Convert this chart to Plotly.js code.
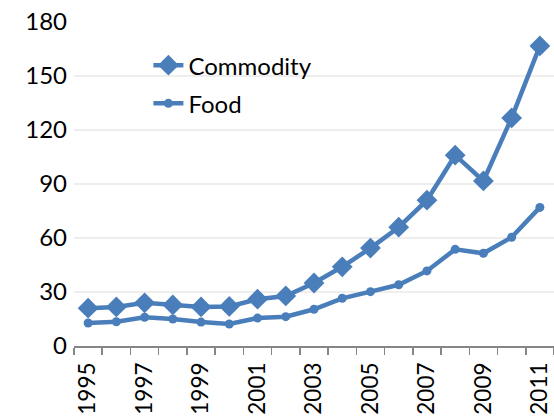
<!DOCTYPE html>
<html>
<head>
<meta charset="utf-8">
<script src="https://cdn.plot.ly/plotly-3.0.1.min.js"></script>
<style>html,body{margin:0;padding:0;background:#fff;}#chart{width:554px;height:416px;}</style>
</head>
<body>
<div id="chart"></div>
<script>
const years = [1995,1996,1997,1998,1999,2000,2001,2002,2003,2004,2005,2006,2007,2008,2009,2010,2011];
const commodity = [21,21.7,24,22.8,21.7,22,26,27.8,35,44,54.4,66,81,106,91.7,126.7,166.7];
const food = [12.8,13.5,16,15,13.3,12.2,15.5,16.3,20.4,26.5,30.2,34,41.7,53.7,51.5,60.4,77];
const xLabels = [1995,1997,1999,2001,2003,2005,2007,2009,2011];
const yTicks = [0,30,60,90,120,150,180];

const blue = '#4a7ebb';
const font = {family: 'Lato, "Open Sans", sans-serif', size: 24, color: '#000'};
const xfont = {family: 'Lato, "Open Sans", sans-serif', size: 22.5, color: '#000'};

const traces = [
  {x: years, y: commodity, name: 'Commodity', type: 'scatter', mode: 'lines+markers',
   line: {color: blue, width: 4.5}, marker: {symbol: 'diamond', size: 16, color: blue}, legendgroup: 'a'},
  {x: years, y: food, name: 'Food', type: 'scatter', mode: 'lines+markers',
   line: {color: blue, width: 4.5}, marker: {symbol: 'circle', size: 9, color: blue}, legendgroup: 'b'}
];

const layout = {
  width: 554, height: 416,
  margin: {l: 74, r: 0, t: 22, b: 70},
  paper_bgcolor: '#fff', plot_bgcolor: '#fff',
  font: font,
  showlegend: true,
  legend: {x: 0.155, y: 0.935, xanchor: 'left', yanchor: 'top', bgcolor: 'rgba(0,0,0,0)',
           font: font, tracegroupgap: 4},
  xaxis: {
    type: 'linear', range: [1994.5, 2011.5],
    tickmode: 'array', tickvals: xLabels, ticktext: xLabels.map(String),
    tickangle: -90, ticks: '', showgrid: false, zeroline: false,
    showline: true, linecolor: '#868686', linewidth: 1.5,
    tickfont: xfont, ticklabelstandoff: 6,
    minor: {tick0: 1994.5, dtick: 1, ticks: 'outside', ticklen: 7, tickcolor: '#868686', tickwidth: 1.5, showgrid: false}
  },
  yaxis: {
    range: [0, 180], tickmode: 'array', tickvals: yTicks,
    showgrid: true, gridcolor: '#eeeeee', gridwidth: 1.5, zeroline: false,
    showline: false, ticks: '', tickfont: font, ticklabelstandoff: 6
  }
};

Plotly.newPlot('chart', traces, layout, {displayModeBar: false, staticPlot: true});
</script>
</body>
</html>
